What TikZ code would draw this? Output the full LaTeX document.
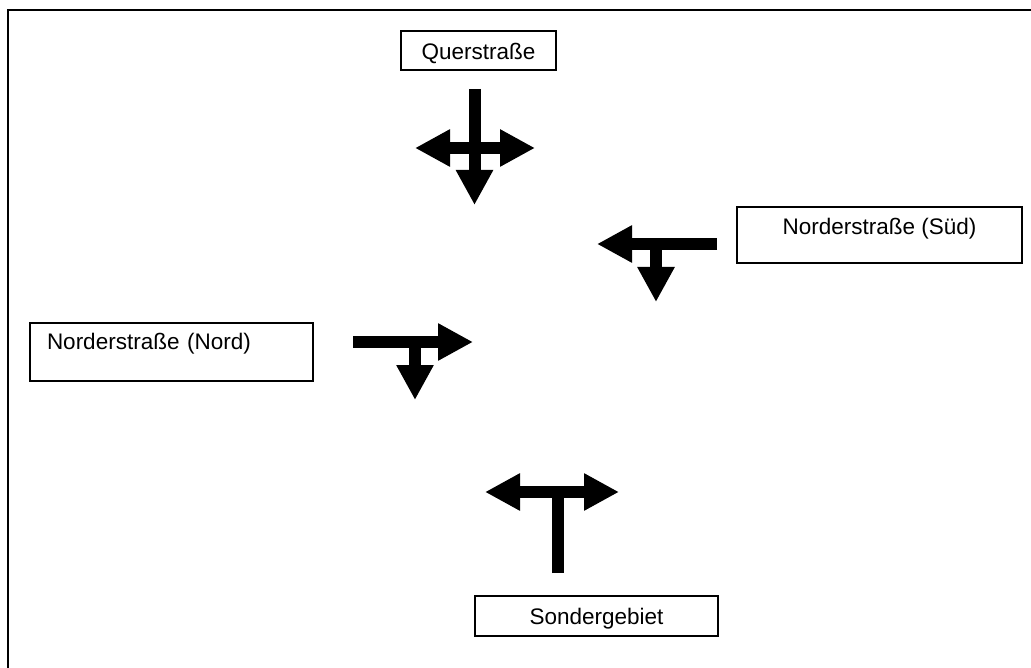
\documentclass[tikz,border=0pt]{standalone}
\usepackage{fontspec}
\setmainfont{Liberation Sans}
\usepackage{tikz}
\usetikzlibrary{arrows.meta, positioning, calc}

\begin{document}
\begin{tikzpicture}[x=1pt,y=-1pt,
  box/.style={draw,line width=1.5pt,inner ysep=0pt,font=\fontsize{22.5}{26}\selectfont},
  fat/.style={line width=12pt,-{Triangle[length=35pt,width=35pt]}},
  stem/.style={line width=12pt}]
\useasboundingbox (0,0) rectangle (1031,668);
% Frame
\draw[line width=2pt] (1031,10) -- (8,10) -- (8,668);

% Streets
\node[box,minimum width=155pt,text height=29pt,text depth=10pt] (quer) at (478.5,50.5) {Querstraße};
\node[box,minimum width=285pt,text height=28pt,text depth=28pt] (sued) at (879.5,235) {Norderstraße (Süd)};
\node[box,inner xsep=17pt,text width=249pt,align=left,text height=26pt,text depth=32pt] (nord) at (171.5,352) {Norderstraße (Nord)};
\node[box,minimum width=243pt,text height=28pt,text depth=12pt] (sonder) at (596.5,616) {Sondergebiet};

% Turns from Querstrasse
\coordinate (q) at (474.5,148);
\draw[fat] (474.5,89) -- (474.5,205);
\draw[fat] (q) -- (415,148);
\draw[fat] (q) -- (535,148);

% Turns from Norderstrasse (Sued)
\coordinate (s) at (656,244);
\draw[fat] (717,244) -- (597,244);
\draw[fat] (s) -- (656,302);

% Turns from Norderstrasse (Nord)
\coordinate (n) at (415,342);
\draw[fat] (353,342) -- (473,342);
\draw[fat] (n) -- (415,400);

% Turns from Sondergebiet
\coordinate (g) at (558,492);
\draw[stem] (558,573) -- (g);
\draw[fat] (g) -- (485,492);
\draw[fat] (g) -- (619,492);
\end{tikzpicture}
\end{document}
